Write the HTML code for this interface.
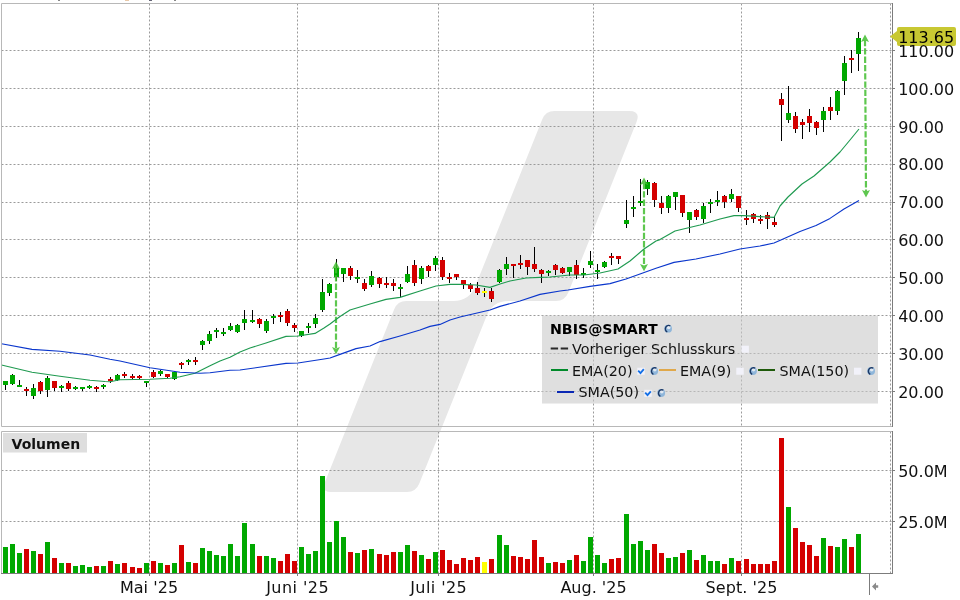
<!DOCTYPE html>
<html lang="de"><head><meta charset="utf-8"><title>NBIS@SMART Chart</title>
<style>html,body{margin:0;padding:0;background:#fff;width:960px;height:600px;overflow:hidden}svg{display:block}svg{will-change:transform}</style></head>
<body>
<svg width="960" height="600" viewBox="0 0 960 600">
<rect width="960" height="600" fill="#fff"/>
<path d="M542.2 119.4 Q545.5 111.0 554.5 111.0 L629.0 111.0 Q641.0 111.0 636.5 122.1 L568.3 292.6 Q565.0 301.0 556.0 301.0 L508.5 301.0 Q492.5 301.0 486.6 315.9 L419.3 483.6 Q416.0 492.0 407.0 492.0 L331.0 492.0 Q321.0 492.0 324.7 482.7 L394.1 309.4 Q397.4 301.0 406.4 301.0 L453.5 301.0 Q469.5 301.0 475.4 286.1 Z" fill="#e7e7e7"/>
<path d="M1.5 50.5 H892 M1.5 88.5 H892 M1.5 126.5 H892 M1.5 164.5 H892 M1.5 202.5 H892 M1.5 239.5 H892 M1.5 277.5 H892 M1.5 315.5 H892 M1.5 353.5 H892 M1.5 391.5 H892 " stroke="#9a9a9a" stroke-width="1" stroke-dasharray="2 2" fill="none"/>
<path d="M149.5 3.5 V426.5 M149.5 431.5 V573 M297.5 3.5 V426.5 M297.5 431.5 V573 M438.5 3.5 V426.5 M438.5 431.5 V573 M593.5 3.5 V426.5 M593.5 431.5 V573 M741.5 3.5 V426.5 M741.5 431.5 V573 M890.5 3.5 V426.5 M890.5 431.5 V573 " stroke="#9a9a9a" stroke-width="1" stroke-dasharray="2 2" fill="none"/>
<path d="M1.5 470.5 H892 M1.5 521.5 H892" stroke="#9a9a9a" stroke-width="1" stroke-dasharray="2 2" fill="none"/>
<rect x="5" y="381" width="1" height="9" fill="#000"/>
<rect x="3" y="381" width="5" height="4" fill="#00a800"/>
<rect x="12" y="374" width="1" height="11" fill="#000"/>
<rect x="10" y="375" width="5" height="9" fill="#00a800"/>
<rect x="19" y="380" width="1" height="7" fill="#000"/>
<rect x="17" y="385" width="5" height="2" fill="#00a800"/>
<rect x="26" y="387" width="1" height="9" fill="#000"/>
<rect x="24" y="389" width="5" height="2" fill="#d40000"/>
<rect x="33" y="384" width="1" height="15" fill="#000"/>
<rect x="31" y="388" width="5" height="8" fill="#00a800"/>
<rect x="40" y="381" width="1" height="13" fill="#000"/>
<rect x="38" y="382" width="5" height="9" fill="#d40000"/>
<rect x="47" y="376" width="1" height="21" fill="#000"/>
<rect x="45" y="378" width="5" height="12" fill="#00a800"/>
<rect x="54" y="381" width="1" height="10" fill="#000"/>
<rect x="52" y="381" width="5" height="7" fill="#d40000"/>
<rect x="61" y="385" width="1" height="7" fill="#000"/>
<rect x="59" y="386" width="5" height="2" fill="#00a800"/>
<rect x="68" y="381" width="1" height="10" fill="#000"/>
<rect x="66" y="383" width="5" height="6" fill="#d40000"/>
<rect x="75" y="386" width="1" height="4" fill="#000"/>
<rect x="73" y="387" width="5" height="2" fill="#00a800"/>
<rect x="82" y="387" width="1" height="4" fill="#000"/>
<rect x="80" y="387" width="5" height="2" fill="#00a800"/>
<rect x="89" y="385" width="1" height="4" fill="#000"/>
<rect x="87" y="386" width="5" height="2" fill="#00a800"/>
<rect x="96" y="386" width="1" height="6" fill="#000"/>
<rect x="94" y="387" width="5" height="2" fill="#d40000"/>
<rect x="103" y="384" width="1" height="5" fill="#000"/>
<rect x="101" y="385" width="5" height="2" fill="#00a800"/>
<rect x="110" y="377" width="1" height="6" fill="#000"/>
<rect x="108" y="379" width="5" height="2" fill="#d40000"/>
<rect x="117" y="374" width="1" height="7" fill="#000"/>
<rect x="115" y="375" width="5" height="5" fill="#00a800"/>
<rect x="124" y="372" width="1" height="6" fill="#000"/>
<rect x="122" y="374" width="5" height="2" fill="#d40000"/>
<rect x="132" y="374" width="1" height="5" fill="#000"/>
<rect x="130" y="376" width="5" height="2" fill="#d40000"/>
<rect x="139" y="375" width="1" height="4" fill="#000"/>
<rect x="137" y="376" width="5" height="2" fill="#d40000"/>
<rect x="146" y="381" width="1" height="6" fill="#000"/>
<rect x="144" y="381" width="5" height="2" fill="#00a800"/>
<rect x="153" y="370" width="1" height="8" fill="#000"/>
<rect x="151" y="372" width="5" height="5" fill="#d40000"/>
<rect x="160" y="370" width="1" height="6" fill="#000"/>
<rect x="158" y="371" width="5" height="3" fill="#00a800"/>
<rect x="167" y="374" width="1" height="4" fill="#000"/>
<rect x="165" y="374" width="5" height="3" fill="#d40000"/>
<rect x="174" y="371" width="1" height="9" fill="#000"/>
<rect x="172" y="372" width="5" height="7" fill="#00a800"/>
<rect x="181" y="362" width="1" height="7" fill="#000"/>
<rect x="179" y="363" width="5" height="2" fill="#d40000"/>
<rect x="188" y="359" width="1" height="6" fill="#000"/>
<rect x="186" y="360" width="5" height="2" fill="#00a800"/>
<rect x="195" y="357" width="1" height="8" fill="#000"/>
<rect x="193" y="360" width="5" height="2" fill="#d40000"/>
<rect x="202" y="340" width="1" height="10" fill="#000"/>
<rect x="200" y="341" width="5" height="4" fill="#00a800"/>
<rect x="209" y="331" width="1" height="13" fill="#000"/>
<rect x="207" y="334" width="5" height="7" fill="#00a800"/>
<rect x="216" y="328" width="1" height="10" fill="#000"/>
<rect x="214" y="330" width="5" height="2" fill="#00a800"/>
<rect x="223" y="328" width="1" height="8" fill="#000"/>
<rect x="221" y="332" width="5" height="2" fill="#00a800"/>
<rect x="230" y="323" width="1" height="8" fill="#000"/>
<rect x="228" y="326" width="5" height="4" fill="#00a800"/>
<rect x="237" y="324" width="1" height="9" fill="#000"/>
<rect x="235" y="325" width="5" height="7" fill="#00a800"/>
<rect x="244" y="310" width="1" height="20" fill="#000"/>
<rect x="242" y="319" width="5" height="4" fill="#00a800"/>
<rect x="252" y="310" width="1" height="13" fill="#000"/>
<rect x="250" y="320" width="5" height="2" fill="#00a800"/>
<rect x="259" y="318" width="1" height="10" fill="#000"/>
<rect x="257" y="319" width="5" height="5" fill="#d40000"/>
<rect x="266" y="319" width="1" height="14" fill="#000"/>
<rect x="264" y="321" width="5" height="10" fill="#00a800"/>
<rect x="273" y="314" width="1" height="10" fill="#000"/>
<rect x="271" y="316" width="5" height="2" fill="#00a800"/>
<rect x="280" y="312" width="1" height="10" fill="#000"/>
<rect x="278" y="315" width="5" height="2" fill="#d40000"/>
<rect x="287" y="309" width="1" height="17" fill="#000"/>
<rect x="285" y="311" width="5" height="12" fill="#d40000"/>
<rect x="294" y="323" width="1" height="9" fill="#000"/>
<rect x="292" y="325" width="5" height="3" fill="#d40000"/>
<rect x="301" y="331" width="1" height="6" fill="#000"/>
<rect x="299" y="331" width="5" height="5" fill="#00a800"/>
<rect x="308" y="323" width="1" height="10" fill="#000"/>
<rect x="306" y="326" width="5" height="2" fill="#00a800"/>
<rect x="315" y="314" width="1" height="14" fill="#000"/>
<rect x="313" y="318" width="5" height="6" fill="#00a800"/>
<rect x="322" y="279" width="1" height="33" fill="#000"/>
<rect x="320" y="292" width="5" height="18" fill="#00a800"/>
<rect x="329" y="283" width="1" height="13" fill="#000"/>
<rect x="327" y="284" width="5" height="9" fill="#00a800"/>
<rect x="336" y="259" width="1" height="22" fill="#000"/>
<rect x="334" y="268" width="5" height="9" fill="#00a800"/>
<rect x="343" y="268" width="1" height="14" fill="#000"/>
<rect x="341" y="268" width="5" height="6" fill="#00a800"/>
<rect x="350" y="266" width="1" height="14" fill="#000"/>
<rect x="348" y="268" width="5" height="8" fill="#d40000"/>
<rect x="357" y="270" width="1" height="13" fill="#000"/>
<rect x="355" y="277" width="5" height="2" fill="#00a800"/>
<rect x="364" y="279" width="1" height="12" fill="#000"/>
<rect x="362" y="283" width="5" height="6" fill="#d40000"/>
<rect x="371" y="271" width="1" height="16" fill="#000"/>
<rect x="369" y="276" width="5" height="9" fill="#00a800"/>
<rect x="379" y="277" width="1" height="11" fill="#000"/>
<rect x="377" y="278" width="5" height="6" fill="#d40000"/>
<rect x="386" y="277" width="1" height="11" fill="#000"/>
<rect x="384" y="283" width="5" height="2" fill="#d40000"/>
<rect x="393" y="279" width="1" height="12" fill="#000"/>
<rect x="391" y="283" width="5" height="3" fill="#d40000"/>
<rect x="400" y="284" width="1" height="13" fill="#000"/>
<rect x="398" y="287" width="5" height="2" fill="#00a800"/>
<rect x="407" y="266" width="1" height="17" fill="#000"/>
<rect x="405" y="274" width="5" height="8" fill="#00a800"/>
<rect x="414" y="260" width="1" height="26" fill="#000"/>
<rect x="412" y="265" width="5" height="18" fill="#d40000"/>
<rect x="421" y="266" width="1" height="18" fill="#000"/>
<rect x="419" y="268" width="5" height="11" fill="#00a800"/>
<rect x="428" y="265" width="1" height="12" fill="#000"/>
<rect x="426" y="266" width="5" height="5" fill="#d40000"/>
<rect x="435" y="256" width="1" height="15" fill="#000"/>
<rect x="433" y="258" width="5" height="7" fill="#00a800"/>
<rect x="442" y="257" width="1" height="23" fill="#000"/>
<rect x="440" y="260" width="5" height="17" fill="#d40000"/>
<rect x="449" y="273" width="1" height="10" fill="#000"/>
<rect x="447" y="277" width="5" height="2" fill="#d40000"/>
<rect x="456" y="274" width="1" height="6" fill="#000"/>
<rect x="454" y="274" width="5" height="3" fill="#d40000"/>
<rect x="463" y="280" width="1" height="9" fill="#000"/>
<rect x="461" y="280" width="5" height="5" fill="#d40000"/>
<rect x="470" y="283" width="1" height="9" fill="#000"/>
<rect x="468" y="285" width="5" height="4" fill="#d40000"/>
<rect x="477" y="282" width="1" height="13" fill="#000"/>
<rect x="475" y="288" width="5" height="5" fill="#d40000"/>
<rect x="484" y="288" width="1" height="9" fill="#000"/>
<rect x="482" y="291" width="5" height="2" fill="#ffff00"/>
<rect x="491" y="288" width="1" height="14" fill="#000"/>
<rect x="489" y="291" width="5" height="8" fill="#d40000"/>
<rect x="499" y="269" width="1" height="14" fill="#000"/>
<rect x="497" y="270" width="5" height="12" fill="#00a800"/>
<rect x="506" y="257" width="1" height="18" fill="#000"/>
<rect x="504" y="264" width="5" height="5" fill="#00a800"/>
<rect x="513" y="264" width="1" height="14" fill="#000"/>
<rect x="511" y="264" width="5" height="2" fill="#d40000"/>
<rect x="520" y="255" width="1" height="14" fill="#000"/>
<rect x="518" y="263" width="5" height="2" fill="#d40000"/>
<rect x="527" y="260" width="1" height="15" fill="#000"/>
<rect x="525" y="260" width="5" height="7" fill="#d40000"/>
<rect x="534" y="247" width="1" height="25" fill="#000"/>
<rect x="532" y="264" width="5" height="5" fill="#d40000"/>
<rect x="541" y="269" width="1" height="14" fill="#000"/>
<rect x="539" y="270" width="5" height="4" fill="#d40000"/>
<rect x="548" y="270" width="1" height="6" fill="#000"/>
<rect x="546" y="271" width="5" height="2" fill="#00a800"/>
<rect x="555" y="264" width="1" height="11" fill="#000"/>
<rect x="553" y="265" width="5" height="5" fill="#d40000"/>
<rect x="562" y="267" width="1" height="7" fill="#000"/>
<rect x="560" y="268" width="5" height="5" fill="#d40000"/>
<rect x="569" y="267" width="1" height="9" fill="#000"/>
<rect x="567" y="267" width="5" height="5" fill="#00a800"/>
<rect x="576" y="260" width="1" height="19" fill="#000"/>
<rect x="574" y="265" width="5" height="10" fill="#d40000"/>
<rect x="583" y="268" width="1" height="10" fill="#000"/>
<rect x="581" y="273" width="5" height="2" fill="#00a800"/>
<rect x="590" y="251" width="1" height="17" fill="#000"/>
<rect x="588" y="261" width="5" height="4" fill="#00a800"/>
<rect x="597" y="264" width="1" height="15" fill="#000"/>
<rect x="595" y="270" width="5" height="2" fill="#00a800"/>
<rect x="604" y="261" width="1" height="7" fill="#000"/>
<rect x="602" y="262" width="5" height="5" fill="#00a800"/>
<rect x="611" y="253" width="1" height="12" fill="#000"/>
<rect x="609" y="256" width="5" height="2" fill="#d40000"/>
<rect x="618" y="256" width="1" height="8" fill="#000"/>
<rect x="616" y="256" width="5" height="3" fill="#d40000"/>
<rect x="626" y="200" width="1" height="28" fill="#000"/>
<rect x="624" y="220" width="5" height="4" fill="#00a800"/>
<rect x="633" y="196" width="1" height="21" fill="#000"/>
<rect x="631" y="207" width="5" height="2" fill="#00a800"/>
<rect x="640" y="179" width="1" height="27" fill="#000"/>
<rect x="638" y="201" width="5" height="2" fill="#00a800"/>
<rect x="647" y="180" width="1" height="15" fill="#000"/>
<rect x="645" y="182" width="5" height="7" fill="#00a800"/>
<rect x="654" y="182" width="1" height="25" fill="#000"/>
<rect x="652" y="183" width="5" height="17" fill="#d40000"/>
<rect x="661" y="196" width="1" height="18" fill="#000"/>
<rect x="659" y="203" width="5" height="5" fill="#d40000"/>
<rect x="668" y="195" width="1" height="18" fill="#000"/>
<rect x="666" y="196" width="5" height="12" fill="#00a800"/>
<rect x="675" y="192" width="1" height="18" fill="#000"/>
<rect x="673" y="192" width="5" height="5" fill="#00a800"/>
<rect x="682" y="195" width="1" height="22" fill="#000"/>
<rect x="680" y="195" width="5" height="18" fill="#d40000"/>
<rect x="689" y="212" width="1" height="21" fill="#000"/>
<rect x="687" y="212" width="5" height="8" fill="#00a800"/>
<rect x="696" y="209" width="1" height="11" fill="#000"/>
<rect x="694" y="210" width="5" height="7" fill="#d40000"/>
<rect x="703" y="203" width="1" height="20" fill="#000"/>
<rect x="701" y="206" width="5" height="13" fill="#00a800"/>
<rect x="710" y="199" width="1" height="14" fill="#000"/>
<rect x="708" y="202" width="5" height="2" fill="#00a800"/>
<rect x="717" y="191" width="1" height="15" fill="#000"/>
<rect x="715" y="200" width="5" height="2" fill="#00a800"/>
<rect x="724" y="195" width="1" height="13" fill="#000"/>
<rect x="722" y="196" width="5" height="6" fill="#d40000"/>
<rect x="731" y="189" width="1" height="13" fill="#000"/>
<rect x="729" y="194" width="5" height="5" fill="#00a800"/>
<rect x="738" y="196" width="1" height="16" fill="#000"/>
<rect x="736" y="196" width="5" height="12" fill="#d40000"/>
<rect x="746" y="210" width="1" height="15" fill="#000"/>
<rect x="744" y="218" width="5" height="2" fill="#d40000"/>
<rect x="753" y="213" width="1" height="10" fill="#000"/>
<rect x="751" y="214" width="5" height="5" fill="#d40000"/>
<rect x="760" y="215" width="1" height="9" fill="#000"/>
<rect x="758" y="219" width="5" height="2" fill="#d40000"/>
<rect x="767" y="212" width="1" height="17" fill="#000"/>
<rect x="765" y="215" width="5" height="4" fill="#d40000"/>
<rect x="774" y="217" width="1" height="10" fill="#000"/>
<rect x="772" y="222" width="5" height="3" fill="#d40000"/>
<rect x="781" y="93" width="1" height="48" fill="#000"/>
<rect x="779" y="99" width="5" height="6" fill="#d40000"/>
<rect x="788" y="86" width="1" height="37" fill="#000"/>
<rect x="786" y="113" width="5" height="7" fill="#00a800"/>
<rect x="795" y="112" width="1" height="21" fill="#000"/>
<rect x="793" y="116" width="5" height="13" fill="#d40000"/>
<rect x="802" y="119" width="1" height="20" fill="#000"/>
<rect x="800" y="122" width="5" height="3" fill="#d40000"/>
<rect x="809" y="109" width="1" height="23" fill="#000"/>
<rect x="807" y="116" width="5" height="7" fill="#d40000"/>
<rect x="816" y="121" width="1" height="14" fill="#000"/>
<rect x="814" y="122" width="5" height="6" fill="#d40000"/>
<rect x="823" y="107" width="1" height="25" fill="#000"/>
<rect x="821" y="111" width="5" height="9" fill="#00a800"/>
<rect x="830" y="97" width="1" height="23" fill="#000"/>
<rect x="828" y="107" width="5" height="4" fill="#d40000"/>
<rect x="837" y="90" width="1" height="25" fill="#000"/>
<rect x="835" y="91" width="5" height="20" fill="#00a800"/>
<rect x="844" y="56" width="1" height="39" fill="#000"/>
<rect x="842" y="63" width="5" height="18" fill="#00a800"/>
<rect x="851" y="50" width="1" height="23" fill="#000"/>
<rect x="849" y="58" width="5" height="2" fill="#d40000"/>
<rect x="858" y="32" width="1" height="39" fill="#000"/>
<rect x="856" y="38" width="5" height="16" fill="#00a800"/>
<rect x="3" y="547" width="5" height="26" fill="#00a800"/>
<rect x="10" y="544" width="5" height="29" fill="#00a800"/>
<rect x="17" y="553" width="5" height="20" fill="#00a800"/>
<rect x="24" y="549" width="5" height="24" fill="#d40000"/>
<rect x="31" y="551" width="5" height="22" fill="#00a800"/>
<rect x="38" y="554" width="5" height="19" fill="#d40000"/>
<rect x="45" y="542" width="5" height="31" fill="#00a800"/>
<rect x="52" y="558" width="5" height="15" fill="#d40000"/>
<rect x="59" y="563" width="5" height="10" fill="#00a800"/>
<rect x="66" y="563" width="5" height="10" fill="#d40000"/>
<rect x="73" y="566" width="5" height="7" fill="#00a800"/>
<rect x="80" y="565" width="5" height="8" fill="#00a800"/>
<rect x="87" y="567" width="5" height="6" fill="#00a800"/>
<rect x="94" y="566" width="5" height="7" fill="#d40000"/>
<rect x="101" y="566" width="5" height="7" fill="#00a800"/>
<rect x="108" y="561" width="5" height="12" fill="#d40000"/>
<rect x="115" y="564" width="5" height="9" fill="#00a800"/>
<rect x="122" y="563" width="5" height="10" fill="#d40000"/>
<rect x="130" y="567" width="5" height="6" fill="#d40000"/>
<rect x="137" y="568" width="5" height="5" fill="#d40000"/>
<rect x="144" y="563" width="5" height="10" fill="#00a800"/>
<rect x="151" y="561" width="5" height="12" fill="#d40000"/>
<rect x="158" y="563" width="5" height="10" fill="#00a800"/>
<rect x="165" y="565" width="5" height="8" fill="#d40000"/>
<rect x="172" y="563" width="5" height="10" fill="#00a800"/>
<rect x="179" y="545" width="5" height="28" fill="#d40000"/>
<rect x="186" y="562" width="5" height="11" fill="#00a800"/>
<rect x="193" y="563" width="5" height="10" fill="#d40000"/>
<rect x="200" y="548" width="5" height="25" fill="#00a800"/>
<rect x="207" y="551" width="5" height="22" fill="#00a800"/>
<rect x="214" y="555" width="5" height="18" fill="#00a800"/>
<rect x="221" y="556" width="5" height="17" fill="#00a800"/>
<rect x="228" y="544" width="5" height="29" fill="#00a800"/>
<rect x="235" y="556" width="5" height="17" fill="#00a800"/>
<rect x="242" y="523" width="5" height="50" fill="#00a800"/>
<rect x="250" y="544" width="5" height="29" fill="#00a800"/>
<rect x="257" y="556" width="5" height="17" fill="#d40000"/>
<rect x="264" y="556" width="5" height="17" fill="#00a800"/>
<rect x="271" y="558" width="5" height="15" fill="#00a800"/>
<rect x="278" y="561" width="5" height="12" fill="#d40000"/>
<rect x="285" y="554" width="5" height="19" fill="#d40000"/>
<rect x="292" y="561" width="5" height="12" fill="#d40000"/>
<rect x="299" y="547" width="5" height="26" fill="#00a800"/>
<rect x="306" y="554" width="5" height="19" fill="#00a800"/>
<rect x="313" y="551" width="5" height="22" fill="#00a800"/>
<rect x="320" y="476" width="5" height="97" fill="#00a800"/>
<rect x="327" y="542" width="5" height="31" fill="#00a800"/>
<rect x="334" y="521" width="5" height="52" fill="#00a800"/>
<rect x="341" y="537" width="5" height="36" fill="#00a800"/>
<rect x="348" y="552" width="5" height="21" fill="#d40000"/>
<rect x="355" y="553" width="5" height="20" fill="#00a800"/>
<rect x="362" y="550" width="5" height="23" fill="#d40000"/>
<rect x="369" y="549" width="5" height="24" fill="#00a800"/>
<rect x="377" y="554" width="5" height="19" fill="#d40000"/>
<rect x="384" y="555" width="5" height="18" fill="#d40000"/>
<rect x="391" y="552" width="5" height="21" fill="#d40000"/>
<rect x="398" y="552" width="5" height="21" fill="#00a800"/>
<rect x="405" y="545" width="5" height="28" fill="#00a800"/>
<rect x="412" y="551" width="5" height="22" fill="#d40000"/>
<rect x="419" y="555" width="5" height="18" fill="#00a800"/>
<rect x="426" y="559" width="5" height="14" fill="#d40000"/>
<rect x="433" y="552" width="5" height="21" fill="#00a800"/>
<rect x="440" y="550" width="5" height="23" fill="#d40000"/>
<rect x="447" y="560" width="5" height="13" fill="#d40000"/>
<rect x="454" y="564" width="5" height="9" fill="#d40000"/>
<rect x="461" y="558" width="5" height="15" fill="#d40000"/>
<rect x="468" y="560" width="5" height="13" fill="#d40000"/>
<rect x="475" y="557" width="5" height="16" fill="#d40000"/>
<rect x="482" y="562" width="5" height="11" fill="#ffff00"/>
<rect x="489" y="559" width="5" height="14" fill="#d40000"/>
<rect x="497" y="535" width="5" height="38" fill="#00a800"/>
<rect x="504" y="545" width="5" height="28" fill="#00a800"/>
<rect x="511" y="556" width="5" height="17" fill="#d40000"/>
<rect x="518" y="557" width="5" height="16" fill="#d40000"/>
<rect x="525" y="559" width="5" height="14" fill="#d40000"/>
<rect x="532" y="540" width="5" height="33" fill="#d40000"/>
<rect x="539" y="557" width="5" height="16" fill="#d40000"/>
<rect x="546" y="563" width="5" height="10" fill="#00a800"/>
<rect x="553" y="562" width="5" height="11" fill="#d40000"/>
<rect x="560" y="563" width="5" height="10" fill="#d40000"/>
<rect x="567" y="560" width="5" height="13" fill="#00a800"/>
<rect x="574" y="555" width="5" height="18" fill="#d40000"/>
<rect x="581" y="561" width="5" height="12" fill="#00a800"/>
<rect x="588" y="537" width="5" height="36" fill="#00a800"/>
<rect x="595" y="555" width="5" height="18" fill="#00a800"/>
<rect x="602" y="563" width="5" height="10" fill="#00a800"/>
<rect x="609" y="559" width="5" height="14" fill="#d40000"/>
<rect x="616" y="558" width="5" height="15" fill="#d40000"/>
<rect x="624" y="514" width="5" height="59" fill="#00a800"/>
<rect x="631" y="544" width="5" height="29" fill="#00a800"/>
<rect x="638" y="541" width="5" height="32" fill="#00a800"/>
<rect x="645" y="550" width="5" height="23" fill="#00a800"/>
<rect x="652" y="544" width="5" height="29" fill="#d40000"/>
<rect x="659" y="553" width="5" height="20" fill="#d40000"/>
<rect x="666" y="558" width="5" height="15" fill="#00a800"/>
<rect x="673" y="557" width="5" height="16" fill="#00a800"/>
<rect x="680" y="553" width="5" height="20" fill="#d40000"/>
<rect x="687" y="550" width="5" height="23" fill="#00a800"/>
<rect x="694" y="560" width="5" height="13" fill="#d40000"/>
<rect x="701" y="555" width="5" height="18" fill="#00a800"/>
<rect x="708" y="561" width="5" height="12" fill="#00a800"/>
<rect x="715" y="561" width="5" height="12" fill="#00a800"/>
<rect x="722" y="564" width="5" height="9" fill="#d40000"/>
<rect x="729" y="558" width="5" height="15" fill="#00a800"/>
<rect x="736" y="561" width="5" height="12" fill="#d40000"/>
<rect x="744" y="559" width="5" height="14" fill="#d40000"/>
<rect x="751" y="564" width="5" height="9" fill="#d40000"/>
<rect x="758" y="564" width="5" height="9" fill="#d40000"/>
<rect x="765" y="564" width="5" height="9" fill="#d40000"/>
<rect x="772" y="561" width="5" height="12" fill="#d40000"/>
<rect x="779" y="438" width="5" height="135" fill="#d40000"/>
<rect x="786" y="507" width="5" height="66" fill="#00a800"/>
<rect x="793" y="528" width="5" height="45" fill="#d40000"/>
<rect x="800" y="542" width="5" height="31" fill="#d40000"/>
<rect x="807" y="545" width="5" height="28" fill="#d40000"/>
<rect x="814" y="556" width="5" height="17" fill="#d40000"/>
<rect x="821" y="538" width="5" height="35" fill="#00a800"/>
<rect x="828" y="546" width="5" height="27" fill="#d40000"/>
<rect x="835" y="547" width="5" height="26" fill="#00a800"/>
<rect x="842" y="539" width="5" height="34" fill="#00a800"/>
<rect x="849" y="547" width="5" height="26" fill="#d40000"/>
<rect x="856" y="534" width="5" height="39" fill="#00a800"/>
<g fill="#43be31" stroke="#43be31" opacity="0.85"><line x1="336" y1="267.0" x2="336" y2="348.8" stroke-width="2.2" stroke-dasharray="6.3 2"/>
<path d="M336 261.5 l-4 7.4 l4 -1.5 l4 1.5z" stroke="none"/>
<path d="M336 354.3 l-4 -7.4 l4 1.5 l4 -1.5z" stroke="none"/></g>
<g fill="#43be31" stroke="#43be31" opacity="0.85"><line x1="644" y1="183.0" x2="644" y2="265.8" stroke-width="2.2" stroke-dasharray="6.3 2"/>
<path d="M644 177.5 l-4 7.4 l4 -1.5 l4 1.5z" stroke="none"/>
<path d="M644 271.3 l-4 -7.4 l4 1.5 l4 -1.5z" stroke="none"/></g>
<g fill="#43be31" stroke="#43be31" opacity="0.85"><line x1="865" y1="40.0" x2="866" y2="192.0" stroke-width="2.2" stroke-dasharray="6.3 2"/>
<path d="M865 34.5 l-4 7.4 l4 -1.5 l4 1.5z" stroke="none"/>
<path d="M866 197.5 l-4 -7.4 l4 1.5 l4 -1.5z" stroke="none"/></g>
<polyline points="1.5,365.0 32.0,372.2 60.0,376.2 90.0,380.2 105.0,381.5 110.0,381.7 120.0,379.7 150.0,379.3 170.0,378.3 180.0,376.7 195.0,373.3 210.0,365.7 220.0,361.0 230.0,357.3 240.0,352.0 250.0,348.0 266.0,343.0 286.0,336.4 298.0,336.0 315.0,333.4 324.0,328.0 330.0,324.0 340.0,316.5 350.0,310.0 370.0,304.0 386.0,299.4 400.0,297.4 420.0,291.0 436.0,286.0 450.0,284.4 460.0,284.4 476.0,285.0 490.0,287.4 500.0,284.0 510.0,281.0 526.0,278.0 540.0,277.4 550.0,277.0 570.0,275.0 584.0,275.0 600.0,273.0 618.0,269.0 630.0,261.0 644.0,249.0 656.0,241.0 660.0,239.6 675.0,231.0 700.0,225.0 720.0,219.0 734.0,215.6 744.0,215.6 760.0,216.6 774.0,217.4 780.0,206.0 788.0,197.0 802.0,184.0 814.0,176.0 830.0,162.0 840.0,152.0 850.0,140.0 859.0,129.0" fill="none" stroke="#1f9a50" stroke-width="1.15" stroke-linejoin="round"/>
<polyline points="1.5,343.8 32.0,349.4 60.0,351.2 90.0,355.0 110.0,359.2 120.0,361.0 150.0,367.7 180.0,372.3 200.0,373.3 210.0,372.7 230.0,370.3 240.0,370.0 286.0,363.4 298.0,363.0 324.0,359.0 330.0,358.0 340.0,354.4 356.0,348.6 370.0,346.0 380.0,341.6 400.0,336.0 420.0,330.0 430.0,326.4 440.0,324.4 450.0,320.0 460.0,317.0 490.0,310.0 500.0,306.4 520.0,301.0 540.0,294.4 560.0,291.0 568.0,290.0 590.0,286.4 610.0,283.6 626.0,279.0 640.0,274.0 656.0,268.3 674.0,262.4 696.0,259.0 720.0,254.0 740.0,249.0 760.0,246.0 774.0,243.0 782.0,239.4 800.0,231.6 816.0,225.6 830.0,218.4 844.0,209.0 859.0,200.4" fill="none" stroke="#0a36cc" stroke-width="1.12" stroke-linejoin="round"/>
<path d="M892.5 3.5 H1.5 V426.5 H892.5 M892.5 431.5 H1.5 V573.5" fill="none" stroke="#b8b8b8" stroke-width="1"/>
<path d="M892.5 3 V427 M892.5 431 V574 M1 573.5 H893 M869.5 573 V595" fill="none" stroke="#7c7c7c" stroke-width="1"/>
<path d="M892 50.5 H895 M892 88.5 H895 M892 126.5 H895 M892 164.5 H895 M892 202.5 H895 M892 239.5 H895 M892 277.5 H895 M892 315.5 H895 M892 353.5 H895 M892 391.5 H895 M892 470.5 H895 M892 521.5 H895 M149.5 573 V576 M297.5 573 V576 M438.5 573 V576 M593.5 573 V576 M741.5 573 V576 " fill="none" stroke="#7c7c7c" stroke-width="1"/>
<path d="M872 586.5 l4 -4 v2.7 h2.2 v2.6 h-2.2 v2.7z" fill="#8a8a8a"/>
<path d="M890 36.5 L897 31 V29 Q897 27 899 27 H954 Q956 27 956 29 V44 Q956 46 954 46 H899 Q897 46 897 44 V42 Z" fill="#c8c832"/>
<text x="898.2" y="42.5" font-family="DejaVu Sans, Liberation Sans, sans-serif" font-size="16" fill="#000">113.65</text>
<text x="898.2" y="56.7" font-family="DejaVu Sans, Liberation Sans, sans-serif" font-size="16" fill="#111">110.00</text>
<text x="898.2" y="94.7" font-family="DejaVu Sans, Liberation Sans, sans-serif" font-size="16" fill="#111">100.00</text>
<text x="898.2" y="132.7" font-family="DejaVu Sans, Liberation Sans, sans-serif" font-size="16" fill="#111">90.00</text>
<text x="898.2" y="169.7" font-family="DejaVu Sans, Liberation Sans, sans-serif" font-size="16" fill="#111">80.00</text>
<text x="898.2" y="207.7" font-family="DejaVu Sans, Liberation Sans, sans-serif" font-size="16" fill="#111">70.00</text>
<text x="898.2" y="245.7" font-family="DejaVu Sans, Liberation Sans, sans-serif" font-size="16" fill="#111">60.00</text>
<text x="898.2" y="283.7" font-family="DejaVu Sans, Liberation Sans, sans-serif" font-size="16" fill="#111">50.00</text>
<text x="898.2" y="321.7" font-family="DejaVu Sans, Liberation Sans, sans-serif" font-size="16" fill="#111">40.00</text>
<text x="898.2" y="359.7" font-family="DejaVu Sans, Liberation Sans, sans-serif" font-size="16" fill="#111">30.00</text>
<text x="898.2" y="397.7" font-family="DejaVu Sans, Liberation Sans, sans-serif" font-size="16" fill="#111">20.00</text>
<text x="898.2" y="476.5" font-family="DejaVu Sans, Liberation Sans, sans-serif" font-size="16" fill="#111">50.0M</text>
<text x="898.2" y="527.5" font-family="DejaVu Sans, Liberation Sans, sans-serif" font-size="16" fill="#111">25.0M</text>
<text x="149" y="593" text-anchor="middle" textLength="58.2" lengthAdjust="spacing" font-family="DejaVu Sans, Liberation Sans, sans-serif" font-size="16" fill="#111">Mai '25</text>
<text x="297.4" y="593" text-anchor="middle" textLength="62.4" lengthAdjust="spacing" font-family="DejaVu Sans, Liberation Sans, sans-serif" font-size="16" fill="#111">Juni '25</text>
<text x="438.5" y="593" text-anchor="middle" textLength="56.6" lengthAdjust="spacing" font-family="DejaVu Sans, Liberation Sans, sans-serif" font-size="16" fill="#111">Juli '25</text>
<text x="593.5" y="593" text-anchor="middle" textLength="66.2" lengthAdjust="spacing" font-family="DejaVu Sans, Liberation Sans, sans-serif" font-size="16" fill="#111">Aug. '25</text>
<text x="741.5" y="593" text-anchor="middle" textLength="72" lengthAdjust="spacing" font-family="DejaVu Sans, Liberation Sans, sans-serif" font-size="16" fill="#111">Sept. '25</text>
<rect x="3" y="433" width="84" height="19.5" fill="#dedede"/>
<text x="11.6" y="449" font-family="DejaVu Sans, Liberation Sans, sans-serif" font-size="14" font-weight="bold" fill="#111">Volumen</text>
<rect x="542" y="315.5" width="336" height="88" fill="#c9c9c9" fill-opacity="0.6"/>
<text x="550" y="334" font-family="DejaVu Sans, Liberation Sans, sans-serif" font-size="14.2" font-weight="bold" fill="#000">NBIS@SMART</text>
<path d="M550.7 348.5 h7.4 M560.7 348.5 h7.4" stroke="#2a2a2a" stroke-width="2"/>
<text x="572" y="353.5" font-family="DejaVu Sans, Liberation Sans, sans-serif" font-size="14.3" fill="#111">Vorheriger Schlusskurs</text>
<path d="M551 370 h17" stroke="#008a2a" stroke-width="2"/>
<text x="572" y="375.6" font-family="DejaVu Sans, Liberation Sans, sans-serif" font-size="14.3" fill="#111">EMA(20)</text>
<path d="M659 370 h17" stroke="#e0a84a" stroke-width="2"/>
<text x="680" y="375.6" font-family="DejaVu Sans, Liberation Sans, sans-serif" font-size="14.3" fill="#111">EMA(9)</text>
<path d="M758 370 h17" stroke="#1e5a0a" stroke-width="2"/>
<text x="779.5" y="375.6" font-family="DejaVu Sans, Liberation Sans, sans-serif" font-size="14.3" fill="#111">SMA(150)</text>
<path d="M557 392 h17" stroke="#0a28b4" stroke-width="2"/>
<text x="578.5" y="397.3" font-family="DejaVu Sans, Liberation Sans, sans-serif" font-size="14.3" fill="#111">SMA(50)</text>
<rect x="741.5" y="345.7" width="7.4" height="7" fill="#f2f2fa"/>
<rect x="637.3" y="367.7" width="7.4" height="7" fill="#f2f2fa"/>
<path d="M638.1999999999999 370.59999999999997 l2.3 2.5 l3.3 -3.9" fill="none" stroke="#126fe6" stroke-width="1.8"/>
<circle cx="654.2" cy="371" r="3.9" fill="#8fb6da"/>
<circle cx="654.8000000000001" cy="369.8" r="1.8" fill="#e2e9f2"/>
<path d="M656.4000000000001 368.1 A3.3 3.3 0 1 0 653.4000000000001 374.3" fill="none" stroke="#1b3764" stroke-width="1.35"/>
<rect x="736.3" y="367.7" width="7.4" height="7" fill="#f2f2fa"/>
<circle cx="753" cy="371" r="3.9" fill="#8fb6da"/>
<circle cx="753.6" cy="369.8" r="1.8" fill="#e2e9f2"/>
<path d="M755.2 368.1 A3.3 3.3 0 1 0 752.2 374.3" fill="none" stroke="#1b3764" stroke-width="1.35"/>
<rect x="854" y="367.7" width="7.4" height="7" fill="#f2f2fa"/>
<circle cx="871.1" cy="371" r="3.9" fill="#8fb6da"/>
<circle cx="871.7" cy="369.8" r="1.8" fill="#e2e9f2"/>
<path d="M873.3000000000001 368.1 A3.3 3.3 0 1 0 870.3000000000001 374.3" fill="none" stroke="#1b3764" stroke-width="1.35"/>
<rect x="644.3" y="389.8" width="7.4" height="7" fill="#f2f2fa"/>
<path d="M645.1999999999999 392.7 l2.3 2.5 l3.3 -3.9" fill="none" stroke="#126fe6" stroke-width="1.8"/>
<circle cx="661.2" cy="393" r="3.9" fill="#8fb6da"/>
<circle cx="661.8000000000001" cy="391.8" r="1.8" fill="#e2e9f2"/>
<path d="M663.4000000000001 390.1 A3.3 3.3 0 1 0 660.4000000000001 396.3" fill="none" stroke="#1b3764" stroke-width="1.35"/>
<circle cx="668.1" cy="328.7" r="3.9" fill="#8fb6da"/>
<circle cx="668.7" cy="327.5" r="1.8" fill="#e2e9f2"/>
<path d="M670.3000000000001 325.8 A3.3 3.3 0 1 0 667.3000000000001 332.0" fill="none" stroke="#1b3764" stroke-width="1.35"/>
<rect x="58" y="0" width="2" height="1" fill="#888"/><rect x="125" y="0" width="4" height="1" fill="#e9c9a9"/><rect x="149" y="0" width="3" height="1" fill="#667"/><rect x="174" y="0" width="2" height="1" fill="#888"/>
</svg>
</body></html>
